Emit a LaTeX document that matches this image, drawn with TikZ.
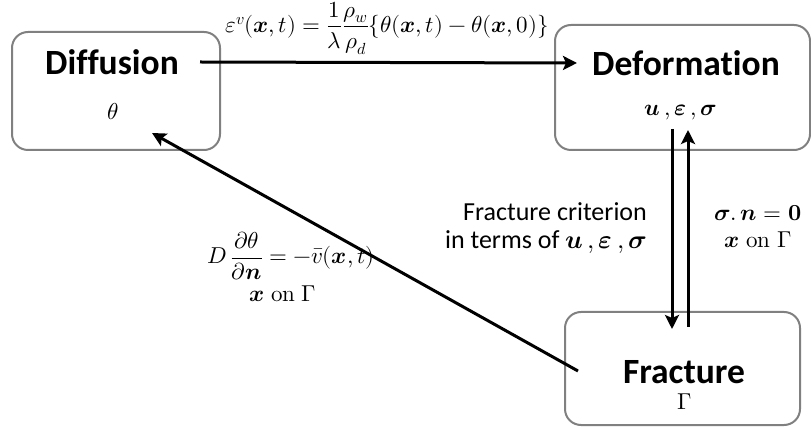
\documentclass[tikz,border=0pt]{standalone}
\usepackage{amsmath}
\usepackage{fontspec}
\usepackage{unicode-math}
\setmainfont{Carlito}[Ligatures=NoCommon]
\setmathfont{Latin Modern Math}
\usetikzlibrary{arrows.meta}
\definecolor{boxgray}{HTML}{808080}
\newcommand{\onG}{\symbfit{x}\;\symup{on}\;\Gamma}
\newcommand{\ues}{\symbfit{u}\,{,}\,\symbfit{\varepsilon}\,{,}\,\symbfit{\sigma}}
\tikzset{
  box/.style={draw=boxgray, line width=2pt, rounded corners=16pt, inner sep=0pt},
  title/.style={font=\fontsize{35.5}{40}\selectfont\bfseries, inner sep=0pt},
  mathlbl/.style={font=\fontsize{23}{27}\selectfont, inner sep=0pt},
  txt/.style={font=\fontsize{26}{31}\selectfont, inner sep=0pt},
  arr/.style={line width=3pt, -{Stealth[length=14pt,width=14pt,inset=3pt]}}
}
\begin{document}
\begin{tikzpicture}[x=1pt,y=-1pt]
\useasboundingbox (0,0) rectangle (811,427);
% boxes
\node[box, minimum width=208pt, minimum height=118pt] (dif) at (116,91) {};
\node[box, minimum width=255pt, minimum height=125pt] (def) at (682.5,87.5) {};
\node[box, minimum width=235pt, minimum height=113pt] (fra) at (682.5,368.5) {};
% texts in boxes
\node[title] (diftxt) at (112,62) {Diffusion};
\node[mathlbl] (difvar) at (113,112) {$\theta$};
\node[title] (deftxt) at (686,63) {Deformation};
\node[mathlbl] (defvar) at (681,112) {$\ues$};
\node[title] (fratxt) at (684,372) {Fracture};
\node[mathlbl] (fravar) at (685,402) {$\Gamma$};
% coordinates
\coordinate (h1) at (200,62);
\coordinate (h2) at (577,63);
\coordinate (d1) at (672,129);
\coordinate (d2) at (672,329);
\coordinate (u1) at (688,327);
\coordinate (u2) at (688,130);
\coordinate (g1) at (578,371);
\coordinate (g2) at (152,133);
% connectors
\draw[arr] (h1) -- (h2);
\draw[arr] (d1) -- (d2);
\draw[arr] (u1) -- (u2);
\draw[arr] (g1) -- (g2);
% labels
\node[mathlbl] (eq1) at (387,28) {$\varepsilon^{v}(\symbfit{x},t)=\dfrac{1}{\lambda}\dfrac{\rho_w}{\rho_d}\{\theta(\symbfit{x},t)-\theta(\symbfit{x},0)\}$};
\node[txt, anchor=east] (fc1) at (647,212) {Fracture criterion};
\node[txt, anchor=east] (fc2) at (647,242) {in terms of $\ues$};
\node[mathlbl] (sn1) at (758,213) {$\symbfit{\sigma}.\,\symbfit{n}=\symbfup{0}$};
\node[mathlbl] (sn2) at (758,240) {$\onG$};
\node[mathlbl] (dn1) at (291,256) {$D\,\dfrac{\partial\theta}{\partial\symbfit{n}}=-\bar{v}(\symbfit{x},t)$};
\node[mathlbl] (dn2) at (283,294) {$\onG$};
\end{tikzpicture}
\end{document}
